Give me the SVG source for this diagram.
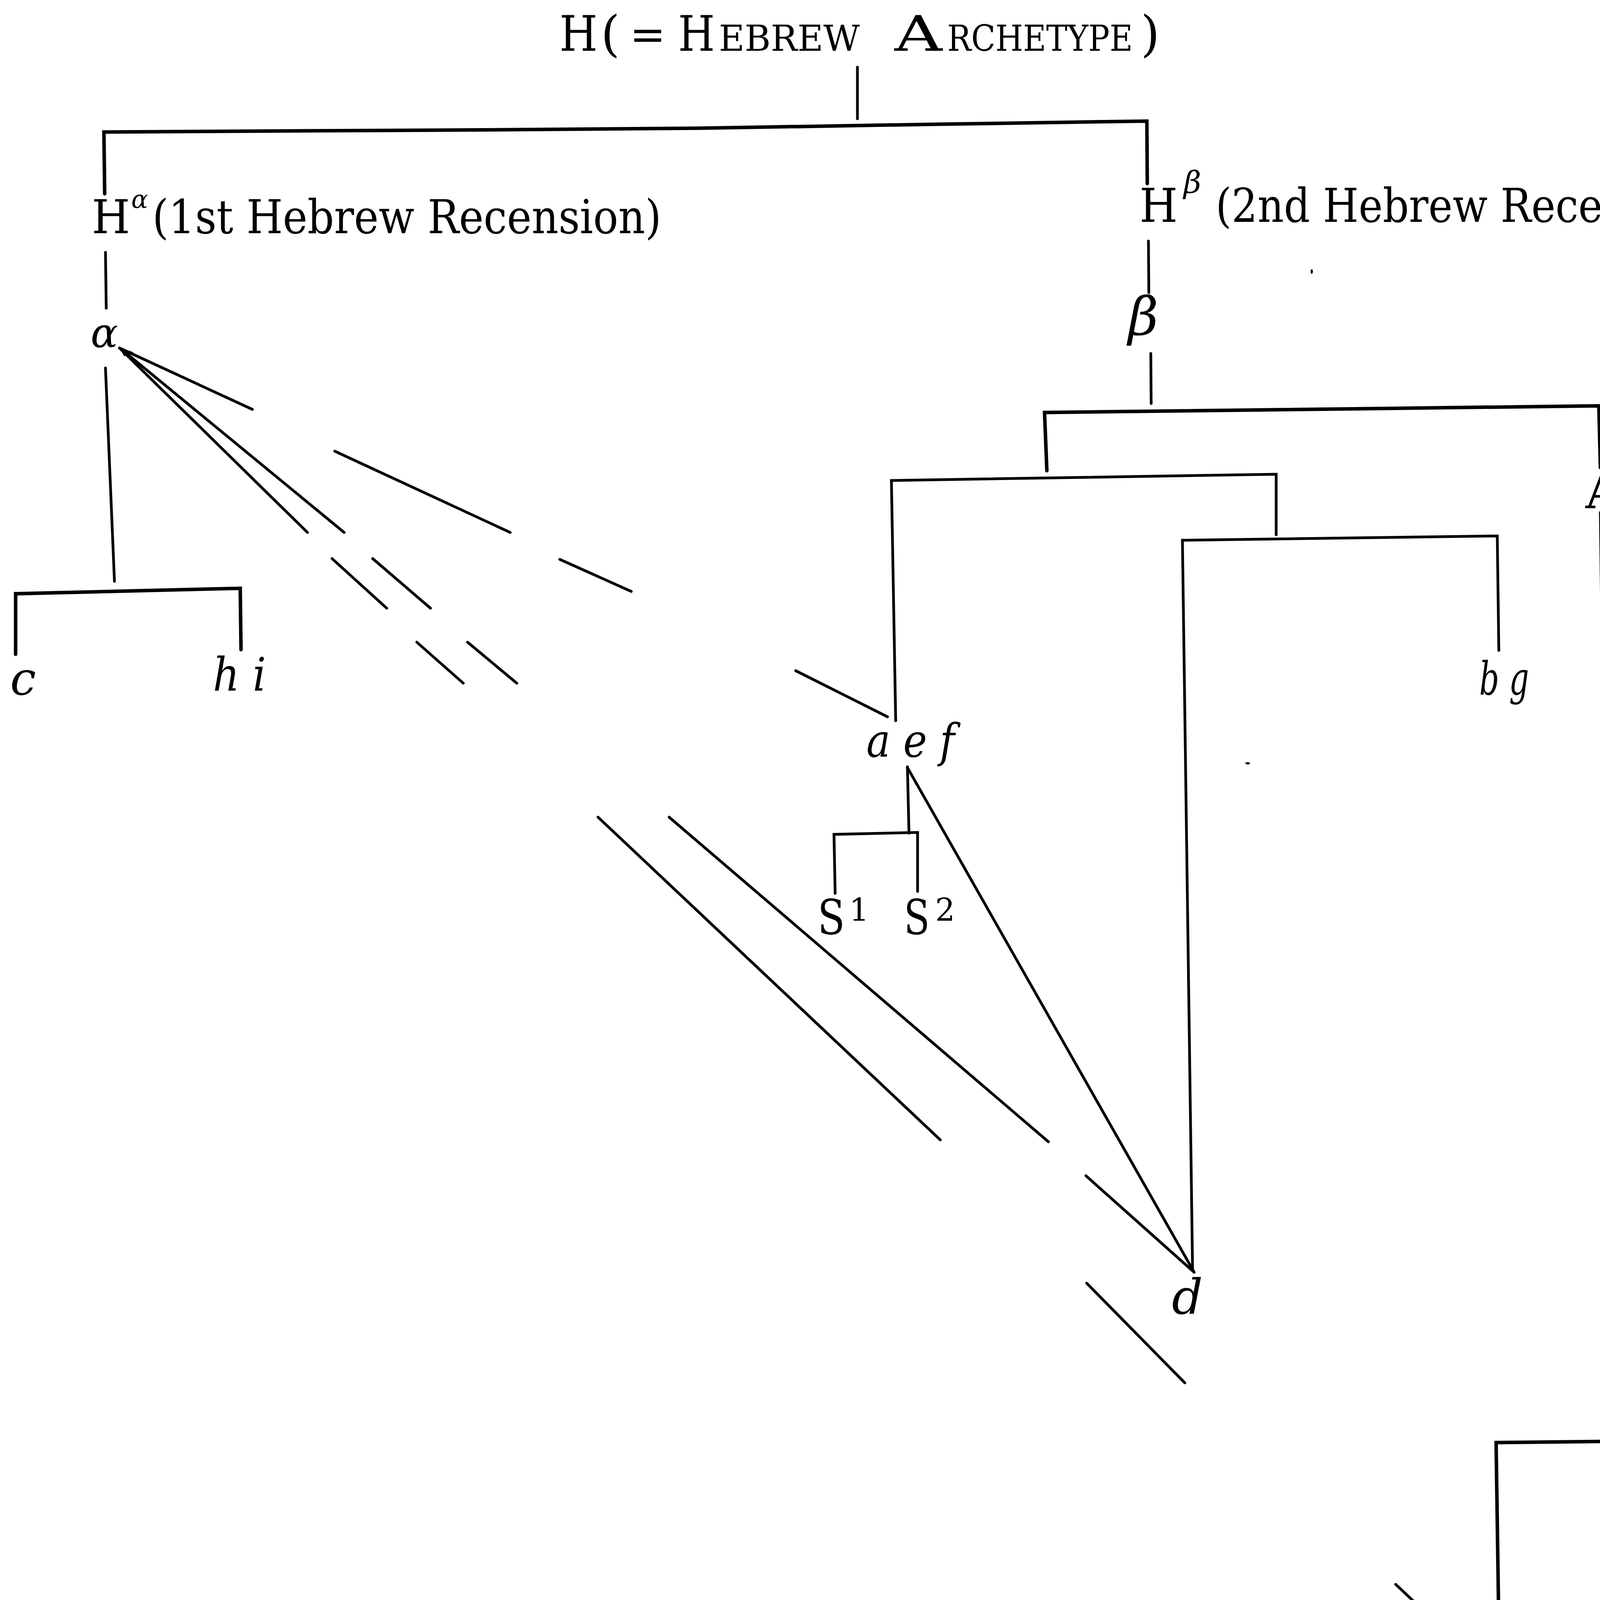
<svg xmlns="http://www.w3.org/2000/svg" width="4494" height="4429" viewBox="0 0 4494 4429">
<style>
  .ln { stroke:#000; stroke-width:7; fill:none; stroke-linecap:round; stroke-linejoin:miter; }
  .hv { stroke-width:9; }
  .t { font-family:"DejaVu Serif","Liberation Serif",serif; fill:#000; }
  .it { font-family:"DejaVu Serif","Liberation Serif",serif; font-style:italic; fill:#000; }
</style>
<rect width="4494" height="4429" fill="#fff"/>

<g id="connectors">
  <line class="ln" x1="2195" y1="172" x2="2195" y2="304"/>
  <polyline class="ln hv" points="268,496 266,338 1300,332 1800,328 2400,318 2936,310 2937,470"/>
  <line class="ln" x1="270" y1="646" x2="272" y2="789"/>
  <line class="ln" x1="270" y1="942" x2="293" y2="1488"/>
  <polyline class="ln hv" points="40,1675 40,1520 615,1506 617,1663"/>
  <line class="ln" x1="2940" y1="617" x2="2941" y2="749"/>
  <line class="ln" x1="2946" y1="905" x2="2947" y2="1033"/>
  <polyline class="ln hv" points="2680,1205 2674,1056 4093,1039 4097,1197"/>
  <line class="ln" x1="4097" y1="1312" x2="4125" y2="3668"/>
  <polyline class="ln hv" points="3839,4301 3830,3693 4372,3687 4374,3843"/>
  <polyline class="ln" points="2293,1845 2282,1230 3267,1214 3267,1369"/>
  <polyline class="ln" points="3053,3253 3027,1383 3833,1372 3837,1665"/>
  <line class="ln" x1="2323" y1="1963" x2="2327" y2="2133"/>
  <polyline class="ln" points="2138,2287 2135,2136 2349,2131 2349,2282"/>
  <line class="ln" x1="2323" y1="1965" x2="3057" y2="3257"/>
  <!-- alpha to a e f -->
  <line class="ln" x1="306" y1="891" x2="646" y2="1048"/>
  <line class="ln" x1="857" y1="1155" x2="1306" y2="1363"/>
  <line class="ln" x1="1433" y1="1432" x2="1616" y2="1514"/>
  <line class="ln" x1="2037" y1="1717" x2="2272" y2="1835"/>
  <!-- alpha to d -->
  <line class="ln" x1="312" y1="895" x2="881" y2="1363"/>
  <line class="ln" x1="954" y1="1430" x2="1102" y2="1557"/>
  <line class="ln" x1="1197" y1="1644" x2="1323" y2="1749"/>
  <line class="ln" x1="1713" y1="2092" x2="2684" y2="2923"/>
  <line class="ln" x1="2780" y1="3010" x2="3057" y2="3257"/>
  <!-- alpha to A alpha -->
  <line class="ln" x1="306" y1="891" x2="787" y2="1363"/>
  <line class="ln" x1="850" y1="1430" x2="990" y2="1557"/>
  <line class="ln" x1="1067" y1="1644" x2="1186" y2="1749"/>
  <line class="ln" x1="1531" y1="2092" x2="2407" y2="2918"/>
  <line class="ln" x1="2782" y1="3285" x2="3033" y2="3540"/>
  <line class="ln" x1="3573" y1="4056" x2="3830" y2="4298"/>
  <polygon points="304,888 342,902 318,912" fill="#000"/>
</g>

<g id="specks">
  <ellipse cx="4298" cy="381" rx="7" ry="12" fill="#000"/>
  <ellipse cx="3358" cy="695" rx="3" ry="6" fill="#000"/>
  <ellipse cx="3194" cy="1954" rx="6" ry="3" fill="#000"/>
</g>

<g id="node-H">
  <text class="t" x="1432" y="130" font-size="126" textLength="98" lengthAdjust="spacingAndGlyphs">H</text>
  <text class="t" x="1538" y="130" font-size="126">(</text>
  <text class="t" x="1612" y="126" font-size="110">=</text>
  <text class="t" x="1736" y="130" font-size="126" textLength="94" lengthAdjust="spacingAndGlyphs">H</text>
  <text class="t" x="1840" y="130" font-size="92" textLength="361" lengthAdjust="spacingAndGlyphs">EBREW</text>
  <text class="t" x="2290" y="130" font-size="126" textLength="122" lengthAdjust="spacingAndGlyphs">A</text>
  <text class="t" x="2425" y="130" font-size="92" textLength="475" lengthAdjust="spacingAndGlyphs">RCHETYPE</text>
  <text class="t" x="2920" y="130" font-size="126">)</text>
</g>

<g id="node-Ha">
  <text class="t" x="235" y="597" font-size="119" textLength="98" lengthAdjust="spacingAndGlyphs">H</text>
  <text class="it" x="336" y="532" font-size="64">α</text>
  <text class="t" x="390" y="597" font-size="119" textLength="1303" lengthAdjust="spacingAndGlyphs">(1st Hebrew Recension)</text>
</g>

<g id="node-Hb">
  <text class="t" x="2917" y="568" font-size="119" textLength="98" lengthAdjust="spacingAndGlyphs">H</text>
  <text class="it" x="3030" y="494" font-size="78">β</text>
  <text class="t" x="3112" y="568" font-size="119" textLength="1316" lengthAdjust="spacingAndGlyphs">(2nd Hebrew Recension)</text>
</g>

<g id="node-alpha">
  <text class="it" x="232" y="889" font-size="104">α</text>
</g>

<g id="node-c">
  <text class="it" x="26" y="1778" font-size="118">c</text>
</g>

<g id="node-hi">
  <text class="it" x="545" y="1768" font-size="118" textLength="136" lengthAdjust="spacingAndGlyphs">h i</text>
</g>

<g id="node-beta">
  <text class="it" x="2888" y="857" font-size="134">β</text>
</g>

<g id="node-A">
  <text class="t" x="4105" y="1301" font-size="128" text-anchor="middle">A</text>
</g>

<g id="node-aef">
  <text class="it" x="2218" y="1937" font-size="118" textLength="226" lengthAdjust="spacingAndGlyphs">a e f</text>
</g>

<g id="node-bg">
  <text class="it" x="3787" y="1778" font-size="118" textLength="127" lengthAdjust="spacingAndGlyphs">b g</text>
</g>

<g id="node-S1">
  <text class="t" x="2093" y="2391" font-size="124" textLength="70" lengthAdjust="spacingAndGlyphs">S</text>
  <text class="t" x="2174" y="2357" font-size="80">1</text>
</g>

<g id="node-S2">
  <text class="t" x="2314" y="2391" font-size="124" textLength="66" lengthAdjust="spacingAndGlyphs">S</text>
  <text class="t" x="2394" y="2357" font-size="80">2</text>
</g>

<g id="node-d">
  <text class="it" x="3000" y="3363" font-size="124">d</text>
</g>

<g id="node-Aa">
  <text class="t" x="3814" y="4420" font-size="134" font-weight="bold" textLength="95" lengthAdjust="spacingAndGlyphs">A</text>
  <text class="it" x="3912" y="4389" font-size="78">α</text>
</g>
</svg>
